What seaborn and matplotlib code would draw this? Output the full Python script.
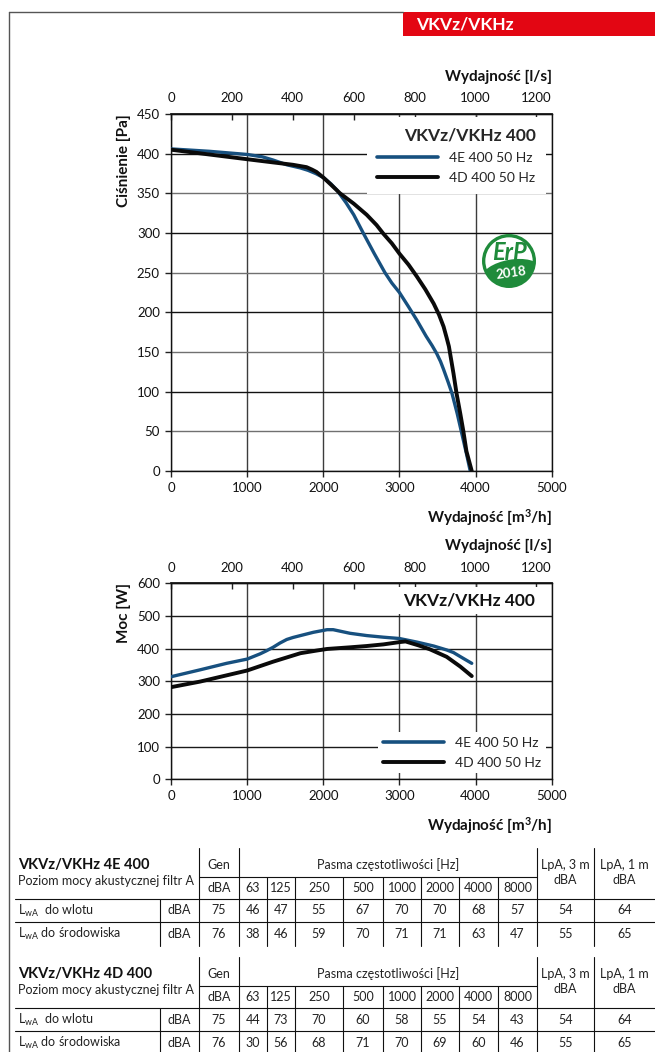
import numpy as np
import pandas as pd
import seaborn as sns
import matplotlib.pyplot as plt
from matplotlib.ticker import MultipleLocator
from matplotlib import patches
from matplotlib.lines import Line2D

############ DATA

# pressure curves: flow [m3/h] -> static pressure [Pa]
flow_4e_p = [0, 500, 1000, 1200, 1340, 1520, 1700, 1800, 1900, 2000, 2100, 2180, 2300, 2400, 2530, 2670,
             2810, 2900, 3000, 3120, 3230, 3350, 3430, 3490, 3540, 3580, 3640, 3690, 3760, 3820, 3880, 3930]
pres_4e = [406, 403, 399, 396, 392, 386, 382, 379, 375, 370, 362, 354, 338, 323, 299, 274,
           250, 237, 225, 207, 190, 170, 158, 148, 138, 128, 112, 98, 72, 47, 22, 0]
flow_4d_p = [0, 500, 1000, 1340, 1600, 1780, 1850, 1910, 2000, 2100, 2220, 2400, 2570, 2700, 2790, 2900,
             3000, 3120, 3230, 3340, 3450, 3520, 3580, 3620, 3650, 3680, 3710, 3750, 3800, 3840, 3880, 3950]
pres_4d = [405, 399, 393, 389, 386, 383, 380, 377, 370, 361, 350, 337, 323, 310, 299, 287,
           274, 260, 245, 229, 211, 197, 182, 168, 157, 140, 123, 98, 72, 50, 25, 0]

# power curves: flow [m3/h] -> power [W]
flow_4e_w = [0, 380, 730, 1000, 1170, 1250, 1340, 1430, 1520, 1600, 1700, 1870, 2050, 2130, 2250, 2350,
             2570, 2790, 3000, 3230, 3450, 3620, 3710, 3840, 3950]
pow_4e = [314, 335, 355, 368, 384, 393, 404, 417, 428, 434, 440, 450, 458, 458, 452, 447,
          440, 435, 431, 420, 408, 396, 388, 370, 355]
flow_4d_w = [0, 380, 1000, 1340, 1700, 1910, 2050, 2350, 2570, 2790, 3000, 3080, 3250, 3400, 3620, 3800, 3950]
pow_4d = [282, 299, 333, 360, 386, 394, 399, 404, 408, 413, 420, 422, 410, 398, 375, 345, 316]

series_labels = ['4E 400 50 Hz', '4D 400 50 Hz']
model_title = 'VKVz/VKHz 400'

# acoustic tables
band_labels = ['63', '125', '250', '500', '1000', '2000', '4000', '8000']
row_labels = [r'L$_{\mathrm{wA}}$  do wlotu', r'L$_{\mathrm{wA}}$ do środowiska']
tab_4e_gen = [75, 76]
tab_4e_bands = [[46, 47, 55, 67, 70, 70, 68, 57], [38, 46, 59, 70, 71, 71, 63, 47]]
tab_4e_lpa3 = [54, 55]
tab_4e_lpa1 = [64, 65]
tab_4d_gen = [75, 76]
tab_4d_bands = [[44, 73, 70, 60, 58, 55, 54, 43], [30, 56, 68, 71, 70, 69, 60, 46]]
tab_4d_lpa3 = [54, 55]
tab_4d_lpa1 = [64, 65]

BLUE = '#17507f'
BLACK = '#0a0a0a'
RED = '#e30613'
GREEN = '#1f8b3b'

############ STYLE

sns.set_theme(style='white')
plt.rcParams['font.family'] = ['Lato', 'DejaVu Sans']
plt.rcParams['mathtext.fontset'] = 'custom'
plt.rcParams['mathtext.rm'] = 'Lato'
plt.rcParams['mathtext.bf'] = 'Lato:bold'
plt.rcParams['mathtext.it'] = 'Lato:italic'

W, H = 655, 1052
fig = plt.figure(figsize=(W / 100, H / 100), dpi=100)
fig.patch.set_facecolor('white')


def fig_rect(left, top, right, bottom):
    return [left / W, 1 - bottom / H, (right - left) / W, (bottom - top) / H]


ax1 = fig.add_axes(fig_rect(171, 114, 551.7, 471))
ax2 = fig.add_axes(fig_rect(171, 583.3, 551.7, 779.3))


def style_axes(ax, ymax, ystep, ylabel):
    ax.set_xlim(0, 5000)
    ax.set_ylim(0, ymax)
    ax.xaxis.set_major_locator(MultipleLocator(1000))
    ax.yaxis.set_major_locator(MultipleLocator(ystep))
    ax.grid(True, axis='x', color='#3c3c3c', lw=1.0)
    ax.grid(True, axis='y', color='#222222', lw=1.0)
    ax.set_axisbelow(True)
    for s in ax.spines.values():
        s.set_visible(True)
        s.set_color('#111111')
        s.set_linewidth(1.0)
    ax.tick_params(axis='both', direction='out', length=4, width=1, color='#222222',
                   labelsize=9.5, labelcolor='#111111', pad=4, left=True, bottom=True)
    ax.set_xlabel('Wydajność [m$^{\\mathbf{3}}$/h]', fontsize=11, fontweight='bold', loc='right',
                  labelpad=9, color='#111111')
    ax.set_ylabel(ylabel, fontsize=11, fontweight='bold', loc='top', labelpad=4.5, color='#111111')
    sec = ax.secondary_xaxis('top', functions=(lambda v: v / 4, lambda v: v * 4))
    sec.set_xticks(range(0, 1201, 200))
    sec.tick_params(direction='in', length=4, width=1, color='#222222', labelsize=9.5,
                    labelcolor='#111111', pad=7)
    sec.spines['top'].set_color('#111111')
    sec.set_xlabel('Wydajność [l/s]', fontsize=11, fontweight='bold', loc='right', labelpad=8,
                   color='#111111')
    return sec


############ PRESSURE CHART

style_axes(ax1, 450, 50, 'Ciśnienie [Pa]')
sns.lineplot(x=flow_4e_p, y=pres_4e, sort=False, estimator=None, color=BLUE, lw=2.4, ax=ax1, zorder=3)
sns.lineplot(x=flow_4d_p, y=pres_4d, sort=False, estimator=None, color=BLACK, lw=2.8, ax=ax1, zorder=3)

# grid colours alternate: hundreds dark, fifties lighter
for val, line in zip(ax1.get_yticks(), ax1.yaxis.get_gridlines()):
    line.set_color('#111111' if val % 100 == 0 else '#707070')

handles = [Line2D([], [], color=BLUE, lw=2.6), Line2D([], [], color=BLACK, lw=2.8)]
leg1 = ax1.legend(handles, series_labels, title=model_title, loc='upper right',
                  bbox_to_anchor=(0.985, 0.992), borderaxespad=0, frameon=True, framealpha=1,
                  facecolor='white', edgecolor='none', fancybox=False, fontsize=10,
                  title_fontproperties={'weight': 'bold', 'size': 12.5}, alignment='right',
                  handlelength=4.4, handletextpad=0.8, labelspacing=0.6, borderpad=0.75)
leg1.set_zorder(5)

# ErP 2018 badge
logo = fig.add_axes(fig_rect(481, 233, 537, 289))
logo.set_xlim(-1.05, 1.05)
logo.set_ylim(-1.05, 1.05)
logo.set_aspect('equal')
logo.axis('off')
ring = patches.Circle((0, 0), 0.95, fc='white', ec=GREEN, lw=2.4)
logo.add_patch(ring)
leaf = patches.Ellipse((0.08, -0.45), 2.2, 1.0, angle=10, fc=GREEN, ec='none')
logo.add_patch(leaf)
leaf.set_clip_path(ring)
logo.text(0.02, 0.3, 'ErP', color=GREEN, fontsize=17, fontweight='bold', fontstyle='italic',
          ha='center', va='center')
logo.text(0.08, -0.45, '2018', color='white', fontsize=9.5, fontweight='bold', ha='center',
          va='center', rotation=8)

############ POWER CHART

style_axes(ax2, 600, 100, 'Moc [W]')
sns.lineplot(x=flow_4e_w, y=pow_4e, sort=False, estimator=None, color=BLUE, lw=2.4, ax=ax2, zorder=3)
sns.lineplot(x=flow_4d_w, y=pow_4d, sort=False, estimator=None, color=BLACK, lw=2.8, ax=ax2, zorder=3)
for line in ax2.yaxis.get_gridlines():
    line.set_color('#1a1a1a')

ax2.text(0.955, 0.955, model_title, transform=ax2.transAxes, ha='right', va='top',
         fontsize=12.5, fontweight='bold', color='#111111', zorder=6,
         bbox=dict(fc='white', ec='none', pad=4))
leg2 = ax2.legend(handles, series_labels, loc='lower right', bbox_to_anchor=(0.985, 0.03),
                  borderaxespad=0, frameon=True, framealpha=1, facecolor='white', edgecolor='none',
                  fancybox=False, fontsize=10, handlelength=4.4, handletextpad=0.8,
                  labelspacing=0.55, borderpad=0.35)
leg2.set_zorder(5)

############ PAGE OVERLAY: frame, banner, tables

ov = fig.add_axes([0, 0, 1, 1])
ov.set_xlim(0, W)
ov.set_ylim(H, 0)
ov.axis('off')

ov.plot([9, 9], [12, H], color='#555555', lw=1)
ov.plot([9, 403], [12, 12], color='#555555', lw=1)
ov.add_patch(patches.Rectangle((403, 12), W - 403, 24, fc=RED, ec='none'))
ov.text(416, 24, 'VKVz/VKHz', color='white', fontsize=12.5, fontweight='bold', va='center', ha='left')

col_x = [160, 199, 239, 267, 295, 343, 383, 421, 459, 498, 537, 594, 655]
LW = 0.8
FS = 9


def draw_table(top, name, gen, bands, lpa3, lpa1):
    y_pasma = top + 29
    y_head = top + 51
    y_mid = top + 74
    y_bot = top + 98
    for x in [199, 239, 537, 594]:
        ov.plot([x, x], [top, y_bot], color='#111111', lw=LW)
    for x in col_x[3:10]:
        ov.plot([x, x], [y_pasma, y_bot], color='#111111', lw=LW)
    ov.plot([160, 160], [y_head, y_bot], color='#111111', lw=LW)
    ov.plot([199, 537], [y_pasma, y_pasma], color='#111111', lw=LW)
    ov.plot([15, W], [y_head, y_head], color='#111111', lw=LW)
    ov.plot([15, W], [y_mid, y_mid], color='#111111', lw=LW)

    ov.text(18, top + 17, name, fontsize=10.5, fontweight='bold', va='center', color='#111111')
    ov.text(18, top + 33, 'Poziom mocy akustycznej filtr A', fontsize=FS, va='center', color='#222222')
    ov.text(219, top + 17, 'Gen', fontsize=FS, ha='center', va='center', color='#222222')
    ov.text(219, top + 40, 'dBA', fontsize=FS, ha='center', va='center', color='#222222')
    ov.text(388, top + 17, 'Pasma częstotliwości [Hz]', fontsize=FS, ha='center', va='center', color='#222222')
    for i, lab in enumerate(band_labels):
        cx = (col_x[2 + i] + col_x[3 + i]) / 2
        ov.text(cx, top + 40, lab, fontsize=FS, ha='center', va='center', color='#222222')
    ov.text(565.5, top + 17, 'LpA, 3 m', fontsize=FS, ha='center', va='center', color='#222222')
    ov.text(565.5, top + 32, 'dBA', fontsize=FS, ha='center', va='center', color='#222222')
    ov.text(624.5, top + 17, 'LpA, 1 m', fontsize=FS, ha='center', va='center', color='#222222')
    ov.text(624.5, top + 32, 'dBA', fontsize=FS, ha='center', va='center', color='#222222')

    for r, yc in enumerate([top + 62.5, top + 86]):
        ov.text(18, yc, row_labels[r], fontsize=FS, va='center', color='#222222')
        ov.text(179.5, yc, 'dBA', fontsize=FS, ha='center', va='center', color='#222222')
        ov.text(219, yc, str(gen[r]), fontsize=FS, ha='center', va='center', color='#222222')
        for i, v in enumerate(bands[r]):
            cx = (col_x[2 + i] + col_x[3 + i]) / 2
            ov.text(cx, yc, str(v), fontsize=FS, ha='center', va='center', color='#222222')
        ov.text(565.5, yc, str(lpa3[r]), fontsize=FS, ha='center', va='center', color='#222222')
        ov.text(624.5, yc, str(lpa1[r]), fontsize=FS, ha='center', va='center', color='#222222')


draw_table(848, 'VKVz/VKHz 4E 400', tab_4e_gen, tab_4e_bands, tab_4e_lpa3, tab_4e_lpa1)
draw_table(957, 'VKVz/VKHz 4D 400', tab_4d_gen, tab_4d_bands, tab_4d_lpa3, tab_4d_lpa1)

fig.savefig('out.png', dpi=100, facecolor='white')
